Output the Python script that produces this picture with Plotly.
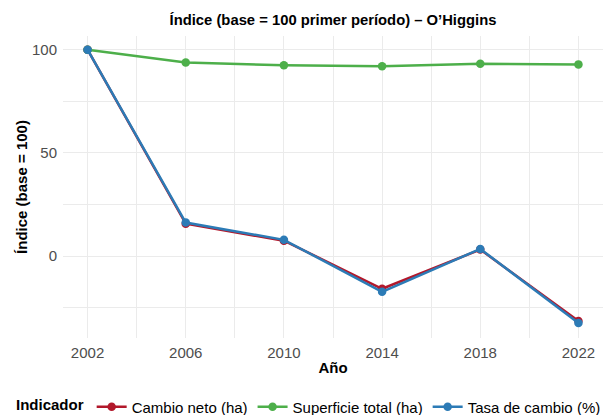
import plotly.graph_objects as go

years = [2002, 2006, 2010, 2014, 2018, 2022]
cambio_neto = [100, 15.7, 7.5, -15.8, 3.2, -31.4]
superficie_total = [100, 93.8, 92.5, 92.0, 93.2, 92.9]
tasa_cambio = [100, 16.3, 7.9, -17.3, 3.5, -32.4]

series = [
    ("Cambio neto (ha)", cambio_neto, "#B2182B"),
    ("Superficie total (ha)", superficie_total, "#4DAF4A"),
    ("Tasa de cambio (%)", tasa_cambio, "#2C7BB6"),
]

x_ticks = [2002, 2006, 2010, 2014, 2018, 2022]
y_ticks = [0, 50, 100]

fig = go.Figure()
for name, vals, col in series:
    fig.add_trace(go.Scatter(
        x=years, y=vals, name=name, mode="lines+markers",
        line=dict(color=col, width=2.5),
        marker=dict(color=col, size=8.5),
    ))

FONT = "Liberation Sans, Arial, sans-serif"
grid = "#EBEBEB"
fig.update_layout(
    width=607, height=415,
    margin=dict(l=62.8, r=4.3, t=36.3, b=77),
    paper_bgcolor="white", plot_bgcolor="white",
    font=dict(family=FONT, size=15, color="#4D4D4D"),
    title=dict(text="<b>Índice (base = 100 primer período) – O’Higgins</b>",
               x=0.5, xref="paper", xanchor="center", y=1 - 20 / 415, yanchor="middle",
               font=dict(size=14.8, color="black")),
    showlegend=True,
    legend=dict(orientation="h", x=606 / 607, xref="container", xanchor="right",
                y=1 - 407 / 415, yref="container", yanchor="middle",
                title=dict(text="<b>Indicador</b>", font=dict(size=15, color="black")),
                font=dict(size=15, color="black"), itemwidth=30, tracegroupgap=0),
)
fig.update_xaxes(
    range=[2001, 2023], tickvals=x_ticks, ticktext=[str(v) for v in x_ticks],
    showgrid=True, gridcolor=grid, gridwidth=1.1, zeroline=False, showline=False,
    ticks="", ticklabelstandoff=4, automargin=False,
    tickfont=dict(size=15, color="#4D4D4D"),
    minor=dict(tickvals=[2004, 2008, 2012, 2016, 2020], showgrid=True, gridcolor=grid, gridwidth=0.6),
    title=dict(text="<b>Año</b>", font=dict(size=15, color="black"), standoff=2),
)
fig.update_yaxes(
    range=[-39.65, 106.65], tickvals=y_ticks, ticktext=[str(v) for v in y_ticks],
    showgrid=True, gridcolor=grid, gridwidth=1.1, zeroline=False, showline=False,
    ticks="", ticklabelstandoff=5, automargin=False,
    tickfont=dict(size=15, color="#4D4D4D"),
    minor=dict(tickvals=[-25, 25, 75], showgrid=True, gridcolor=grid, gridwidth=0.6),
    title=dict(text="<b>Índice (base = 100)</b>", font=dict(size=15, color="black"), standoff=0),
)
fig.write_html("out.html", config={"displayModeBar": False},
               post_script="document.body.style.margin='0';")
